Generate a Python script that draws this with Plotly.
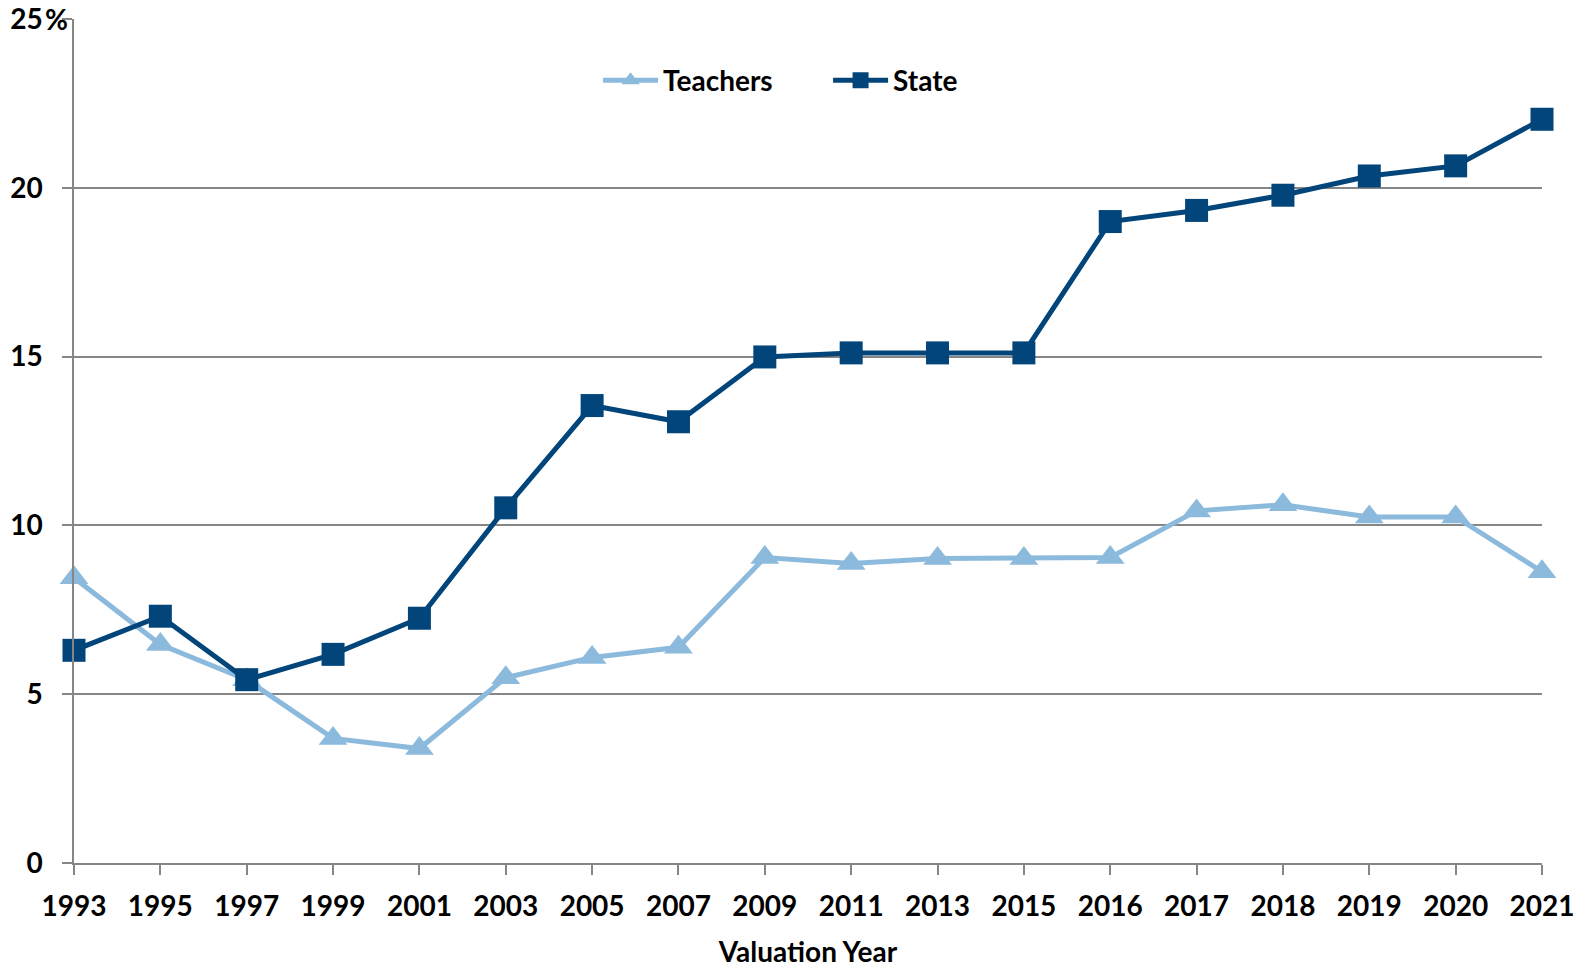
import plotly.graph_objects as go

years = ["1993", "1995", "1997", "1999", "2001", "2003", "2005", "2007", "2009",
         "2011", "2013", "2015", "2016", "2017", "2018", "2019", "2020", "2021"]
teachers = [8.45, 6.47, 5.43, 3.69, 3.39, 5.49, 6.09, 6.39, 9.05,
            8.87, 9.02, 9.02, 9.05, 10.43, 10.61, 10.25, 10.25, 8.63]
state = [6.30, 7.31, 5.43, 6.18, 7.25, 10.52, 13.55, 13.07, 14.99,
         15.11, 15.11, 15.11, 19.00, 19.33, 19.78, 20.35, 20.65, 22.03]
y_tickvals = [0, 5, 10, 15, 20, 25]
y_ticktext = ["0", "5", "10", "15", "20", "25"]

FONT = "Lato"
light = "#8CBADC"
dark = "#02457A"

fig = go.Figure()
fig.add_trace(go.Scatter(
    x=years, y=teachers, name="Teachers", mode="lines+markers",
    line=dict(color=light, width=5),
    marker=dict(symbol="triangle-up", size=25, color=light),
    cliponaxis=False,
))
fig.add_trace(go.Scatter(
    x=years, y=state, name="State", mode="lines+markers",
    line=dict(color=dark, width=5),
    marker=dict(symbol="square", size=23, color=dark),
    cliponaxis=False,
))

fig.update_layout(
    width=1587, height=968,
    margin=dict(l=74, r=45, t=19, b=105, autoexpand=False),
    paper_bgcolor="white", plot_bgcolor="white",
    font=dict(family=FONT, size=28, color="black", weight="bold"),
    showlegend=True,
    legend=dict(
        orientation="h", x=0.357, y=0.927, xanchor="left", yanchor="middle",
        font=dict(family=FONT, size=28, color="black", weight="bold"),
        itemwidth=55,
        entrywidth=160, entrywidthmode="pixels",
        bgcolor="rgba(0,0,0,0)",
    ),
    xaxis=dict(
        type="category", range=[0, len(years) - 1], automargin=False,
        showgrid=False, showline=True, linecolor="#868686", linewidth=1.5,
        ticks="outside", ticklen=10, tickcolor="#868686", tickwidth=1.5,
        tickfont=dict(family=FONT, size=28, color="black", weight="bold"),
        ticklabelstandoff=8,
        title=dict(text="Valuation Year", font=dict(family=FONT, size=28, color="black", weight="bold"),
                   standoff=23),
    ),
    yaxis=dict(
        range=[0, 25], tickvals=y_tickvals, ticktext=y_ticktext, automargin=False,
        showgrid=True, gridcolor="#868686", gridwidth=1.5,
        showline=True, linecolor="#868686", linewidth=1.5,
        ticks="outside", ticklen=10, tickcolor="#868686", tickwidth=1.5,
        tickfont=dict(family=FONT, size=28, color="black", weight="bold"),
        ticklabelstandoff=14,
        zeroline=False,
    ),
    annotations=[dict(
        text="%", xref="paper", yref="y", x=0, y=25, xanchor="left", yanchor="middle",
        xshift=-31, showarrow=False,
        font=dict(family=FONT, size=28, color="black", weight="bold"),
    )],
)

fig.write_html("out.html", config={"displayModeBar": False},
               post_script="document.body.style.margin='0';")
